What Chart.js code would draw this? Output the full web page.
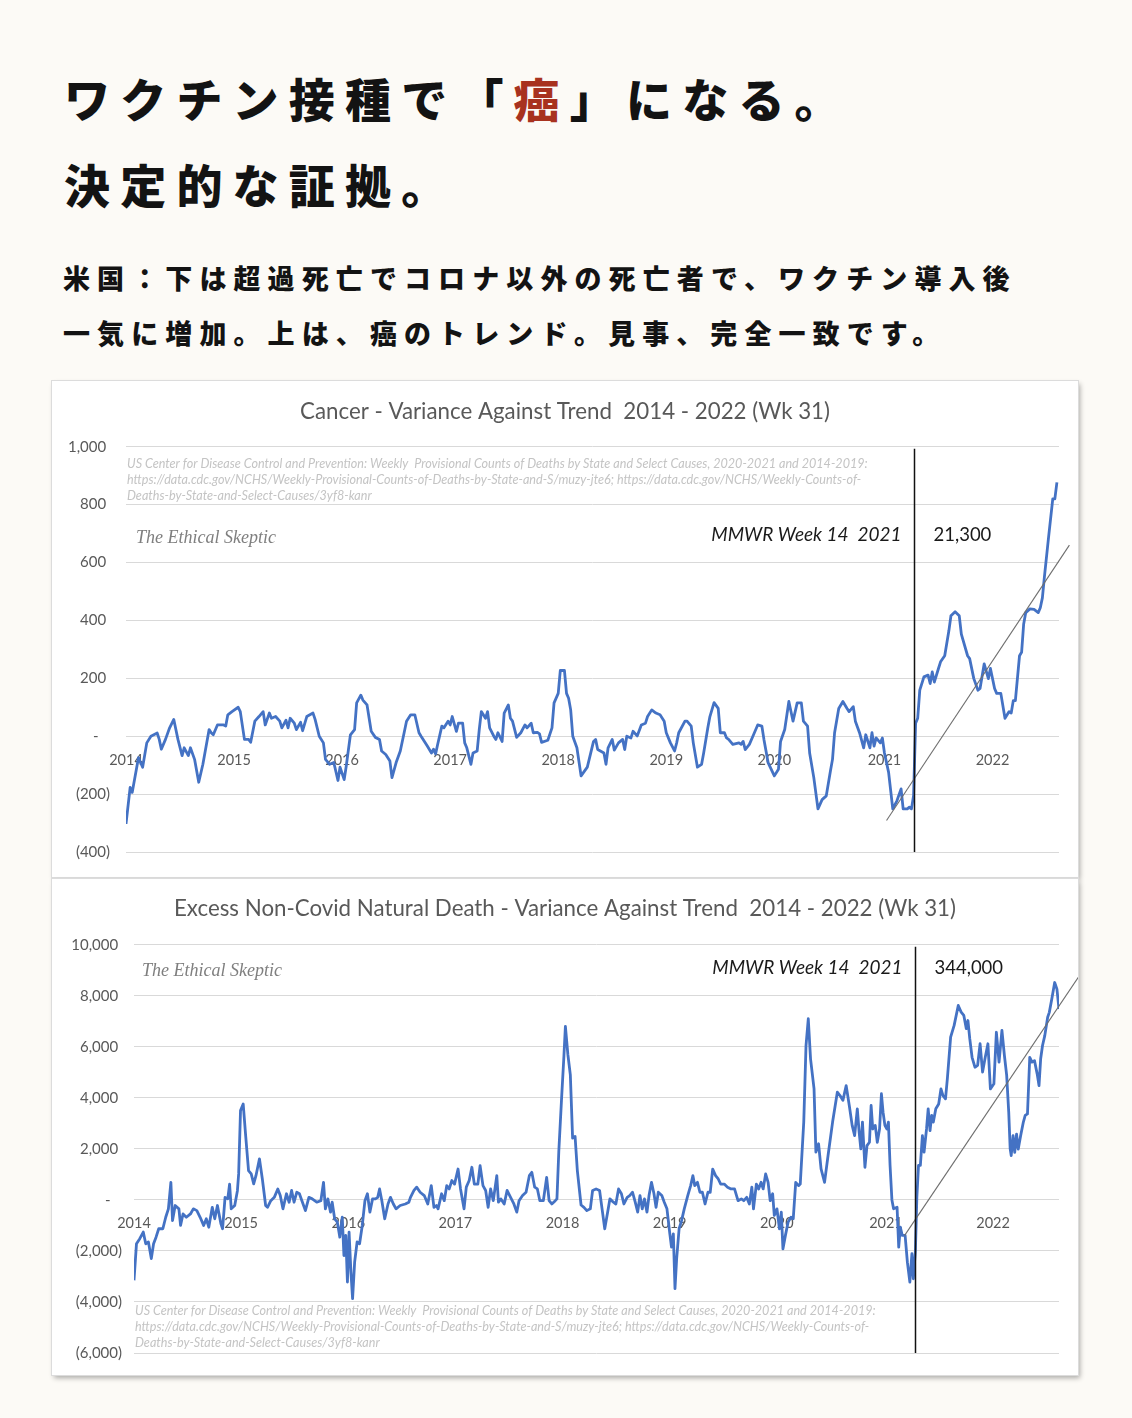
<!DOCTYPE html>
<html lang="ja"><head><meta charset="utf-8">
<script src="https://cdn.jsdelivr.net/npm/chart.js@4.4.1/dist/chart.umd.min.js"></script>
<style>
html,body{margin:0;padding:0;}
body{width:1132px;height:1418px;background:#fcfaf6;position:relative;overflow:hidden;font-family:"Noto Sans CJK JP",sans-serif;}
.h{position:absolute;left:64px;margin:0;color:#131313;white-space:nowrap;line-height:1;}
.h1{font-size:46px;letter-spacing:10.2px;font-weight:900;}
.h2{font-size:27px;letter-spacing:7.1px;font-weight:900;}
.red{color:#a8321f;}
.card{position:absolute;left:52px;width:1026px;height:496px;background:#fff;box-shadow:0 0 0 1px #dcdcdc,2px 3px 5px rgba(0,0,0,0.32);}
.card canvas{display:block;}
</style></head>
<body>
<div class="h h1" style="top:74px">ワクチン接種で「<span class="red">癌</span>」になる。</div>
<div class="h h1" style="top:160px">決定的な証拠。</div>
<div class="h h2" style="top:264px;left:63px">米国：下は超過死亡でコロナ以外の死亡者で、ワクチン導入後</div>
<div class="h h2" style="top:319px;left:63px">一気に増加。上は、癌のトレンド。見事、完全一致です。</div>

<div class="card" style="top:381px"><canvas id="c1" width="1026" height="496"></canvas></div>
<div class="card" style="top:879px"><canvas id="c2" width="1026" height="496"></canvas></div>

<script>
// ---- data (x = MMWR week index counted from 2014 week 1) ----
const years = ['2014','2015','2016','2017','2018','2019','2020','2021','2022'];
const yearWeeks = [0, 52, 104, 156, 208, 260, 312, 365, 417];
const markerWeek = 379; // MMWR Week 14 2021

const cancerWeeks = [
0,2,3,6,8,10,12,15,16,17,
19,21,23,24,25,27,28,30,31,33,
35,37,40,41,42,44,47,48,49,51,
54,55,57,59,60,62,64,66,67,69,
70,72,74,75,77,78,79,81,82,84,
85,87,90,91,93,95,96,98,100,102,
103,105,106,108,110,111,113,114,116,118,
120,122,123,125,127,128,130,132,134,135,
137,139,141,142,145,147,148,149,150,152,
153,155,156,157,159,160,162,163,164,166,
167,169,170,171,173,174,175,177,178,179,
181,182,184,185,186,188,190,192,193,195,
196,198,199,200,203,205,206,208,209,211,
212,213,214,215,217,219,222,225,226,227,
230,231,232,234,235,237,239,240,241,243,
244,246,248,250,251,253,255,257,259,260,
262,264,265,266,269,270,272,273,275,277,
278,280,281,283,285,286,288,289,290,292,
295,296,297,298,300,302,304,306,307,309,
312,314,315,317,319,321,323,325,326,328,
329,331,333,335,337,339,340,341,343,345,
347,348,350,351,353,355,356,358,359,360,
361,363,364,365,367,369,371,373,374,376,
377,378,379,380,381,382,384,386,387,388,
389,391,392,394,396,397,399,401,402,405,
406,408,410,411,413,415,416,418,419,421,
423,425,426,427,428,430,431,432,433,435,
437,439,440,441,442,444,446,447,448];
const cancerValues = [
-303,-177,-194,-74,-107,-23,0,11,-11,-45,
-11,29,58,23,-11,-67,-40,-67,-40,-80,
-159,-97,23,12,5,39,39,35,74,85,
100,85,-11,-11,-21,52,68,85,39,80,
62,68,52,29,55,29,62,45,23,48,
19,68,80,58,0,-23,-80,-97,-91,-153,
-107,-150,-103,5,23,115,142,125,108,17,
-4,-11,-51,-63,-86,-143,-91,-51,17,52,
74,74,12,0,-34,-58,-45,-61,-28,35,
29,52,39,68,17,45,45,-23,-40,-97,
-58,-51,23,85,62,85,29,0,-11,12,
-18,80,108,62,52,-4,12,39,29,45,
12,13,8,-21,-14,29,115,148,227,227,
148,131,91,0,-40,-137,-107,-18,-11,-46,
-58,-97,-40,-11,-48,-23,-11,-46,0,-6,
17,1,39,45,68,91,80,74,52,12,
-23,-51,-23,12,52,52,35,-23,-107,-97,
-58,29,68,116,96,12,12,-6,-11,-28,
-23,-28,-18,-46,-28,5,39,35,-11,-91,
-137,-114,-18,23,120,52,115,115,52,35,
-58,-143,-251,-219,-206,-120,-80,12,96,120,
96,85,102,52,12,-40,5,-40,12,-34,
-6,-23,-6,-58,-125,-251,-223,-182,-251,-251,
-245,-251,-206,45,62,159,205,211,182,222,
187,234,257,278,364,416,430,416,353,278,
268,199,159,165,250,199,234,165,148,148,
62,85,80,123,123,278,290,388,427,440,
438,427,444,478,552,689,820,820,877];
const cancerTrendWeeks = [366, 454];
const cancerTrendValues = [-291, 660];

const excessWeeks = [
0,1.2,2.8,4.5,5.7,7,8.4,9.5,10.7,12,
14,15.4,16.7,17.9,18.7,20,21.8,22.6,23.8,25.4,
27.4,28.8,30.5,32.1,33.8,35.1,36.3,38,39.2,40.5,
42.2,43,44.2,45.5,46.4,47.2,48.9,50.2,50.8,51.7,
53,54.2,55.6,56.9,58.1,59.2,60.9,62.3,63.9,64.8,
66.4,68.1,69.8,71,72.3,74,75.3,76.5,77.7,79,
80.3,81.5,83.2,84.9,86.5,88.7,90.7,92,92.9,94.1,
95.4,96.2,97.4,98.7,99.9,101.1,101.9,102.8,103.6,104.4,
105.3,106.1,107.1,108.3,109.5,110.8,112.1,113.3,114.5,115.8,
117.2,118.3,119.2,120.3,121.7,123.3,124.5,125.9,127.2,129.2,
131.7,133.4,134.2,135.9,137.2,138.9,140.9,142.6,144.3,145.6,
146.8,147.6,149.3,150.6,151.8,153,154.3,155.6,157.3,158.5,
160.2,161.3,162.7,164,165.2,166.9,168,169.4,170.7,171.9,
173.1,174.4,176.1,176.9,178.1,179.7,181.1,182.8,184.4,185.8,
186.9,188.6,190.3,191.9,193.1,194.5,195.8,197,198.7,200.3,
201.5,202.8,204.5,205.3,206.2,207.5,208.7,209.4,210.6,211.8,
212.9,214.1,215.2,217,218.4,219.8,221.5,222.6,224.3,226,
227.2,228.5,229.9,231,232.7,233.9,235.2,236.6,237.8,239.4,
240.6,242,243.3,244.5,245.6,246.7,247.8,249,250,251.2,
252.4,253.4,254.5,256.2,257.4,258.7,260.1,260.9,261.8,262.6,
263.4,264.6,265.8,267.1,268.8,270.2,271.3,272.2,273.5,274.7,
275.9,277.2,278.6,279.7,280.9,282.3,283.6,284.8,286.5,288.1,
289.8,291.5,293.2,294.8,296,297.4,298.7,299.9,300.7,302.1,
303.2,304.4,305.4,306.6,307.8,308.8,310,310.8,312.1,313.3,
314.2,315,316.2,317.5,318.9,320,321.2,322.6,323.4,325.1,
326.2,327.3,328.4,330.1,331,332.3,333.5,335.2,336.9,339.1,
341.4,342.7,344.1,345.7,347.2,348.6,349.8,351.1,352,352.8,
353.6,354.8,355.8,357,357.8,358.6,359.8,360.8,361.9,362.8,
363.6,364.5,365.4,366.2,367,367.9,368.7,370.4,371.2,372,
372.9,374.3,375.4,376.6,377.6,378.3,379.3,380,380.8,381.7,
382.7,383.5,384.7,385.5,386.4,387.2,388,389.2,390.6,391.7,
392.7,393.9,394.8,396.4,398.1,400.1,401.5,402.8,404,404.8,
405.7,406.8,408.2,409.5,410.7,411.9,413.2,414.5,415.7,417.4,
418.6,419.9,421.3,422.5,423.6,424.6,425.3,425.8,426.7,427.5,
428.4,429.2,430.4,431.7,432.6,433.7,434.8,435.9,437.1,438.4,
439.3,440.1,441,442.1,443.5,444.3,445.5,446.9,448,449];
const excessValues = [
-3150,-1720,-1520,-1260,-1720,-1650,-2300,-1720,-1460,-1130,
-1130,-680,-350,690,-810,-220,-350,-1000,-550,-680,
-550,-350,-420,-680,-1000,-740,-1070,-290,-740,-220,
-940,-1130,100,40,620,-350,-220,360,1020,3500,
3760,2520,1150,1020,630,950,1610,820,-220,-290,
-30,100,430,170,-350,240,-90,370,-90,300,
240,-30,-420,100,40,-90,-30,690,-350,40,
-480,-90,-740,-870,-1460,-680,-2180,-1390,-3220,-1260,
-2830,-3870,-2440,-1650,-1720,-1000,-30,240,-480,40,
40,100,430,-30,-740,-160,100,-160,-350,-220,
-160,-90,100,370,500,300,170,-160,560,-290,
-220,-350,240,-30,560,430,760,620,1210,430,
-350,500,760,1280,620,620,1340,560,370,-290,
430,-30,950,-90,40,-160,370,100,-160,-480,
-30,170,300,950,1080,500,430,-30,-30,880,
-30,-160,-30,40,1900,3900,5660,6800,5700,4900,
2420,2490,1150,-200,-290,-420,-350,370,430,370,
-350,-1130,-480,40,-90,-160,430,240,-160,100,
170,300,-90,-480,170,-350,40,-480,170,690,
240,-290,300,170,-90,-350,-1330,-1850,-1330,-3480,
-2310,-1130,-810,-350,170,560,950,560,690,300,
300,-160,300,300,1210,950,820,620,620,500,
430,430,-30,40,-30,100,-160,500,-350,620,
430,690,430,1020,690,-30,240,-610,-350,-1130,
-480,-1920,-1390,-870,-680,-740,690,560,620,3050,
6050,7100,5530,4350,1870,2200,1220,690,1740,3050,
4220,4090,3900,4480,3700,2920,2520,3570,2650,2000,
3050,1280,2130,2260,3700,2780,2920,2260,2780,4160,
3440,2920,2780,3050,1350,0,-350,-290,-1850,-1070,
-1390,-1390,-2440,-3220,-2110,-3090,-1980,100,1350,1350,
2520,1870,2780,3570,2720,3310,3050,3570,3760,4350,
4090,3960,4740,6380,6840,7620,7360,7230,6710,7030,
6310,5590,5200,5270,6120,5010,5590,6120,4350,4550,
6570,5400,6640,5660,4880,3440,2000,1740,2520,1860,
2580,1990,2520,3050,3310,3370,5590,5400,5460,4940,
4480,5530,6050,6440,7160,7350,7870,8520,8260,7480];
const excessTrendWeeks = [374, 459];
const excessTrendValues = [-1400, 8800];

const sourceLines = [
  'US Center for Disease Control and Prevention: Weekly  Provisional Counts of Deaths by State and Select Causes, 2020-2021 and 2014-2019:',
  'https://data.cdc.gov/NCHS/Weekly-Provisional-Counts-of-Deaths-by-State-and-S/muzy-jte6; https://data.cdc.gov/NCHS/Weekly-Counts-of-',
  'Deaths-by-State-and-Select-Causes/3yf8-kanr'
];

// ---- helpers ----
const pts = (xs, ys) => xs.map((x, i) => ({x, y: ys[i]}));
function fmt(v) {
  if (v === 0) return '-   ';
  const s = Math.abs(v).toLocaleString('en-US');
  return v < 0 ? '(' + s + ')' : s + ' ';
}

const annotPlugin = {
  id: 'annot',
  afterDatasetsDraw(chart, args, o) {
    const {ctx, chartArea: a, scales: {x}} = chart;
    const lx = Math.round(x.getPixelForValue(markerWeek)) + 0.5;
    ctx.save();
    ctx.strokeStyle = '#111';
    ctx.lineWidth = 1.5;
    ctx.beginPath(); ctx.moveTo(lx, a.top + 2); ctx.lineTo(lx, a.bottom); ctx.stroke();

    ctx.textBaseline = 'middle';
    // source note
    ctx.fillStyle = '#c4c4c4';
    ctx.font = 'italic 12.6px Lato';
    ctx.textAlign = 'left';
    o.sourceY.forEach((dy, i) => {
      const y = dy >= 0 ? a.top + dy : a.bottom + dy;
      ctx.fillText(sourceLines[i], a.left + 1, y);
    });
    // signature
    ctx.fillStyle = '#7f7f7f';
    ctx.font = 'italic 18px "Liberation Serif"';
    ctx.fillText('The Ethical Skeptic', a.left + o.sigX, a.top + o.sigY);
    // marker labels
    ctx.fillStyle = '#1a1a1a';
    ctx.font = 'italic 19px Lato';
    ctx.textAlign = 'right';
    ctx.fillText('MMWR Week 14  2021', lx - 13, a.top + o.labelY);
    ctx.font = '18.5px Lato';
    ctx.textAlign = 'left';
    ctx.fillText(o.total, lx + 19, a.top + o.labelY);
    ctx.restore();
  }
};

function makeChart(id, cfg) {
  return new Chart(document.getElementById(id), {
    type: 'line',
    data: {
      datasets: [
        {data: pts(cfg.weeks, cfg.values), borderColor: '#4472c4', borderWidth: 2.8,
         pointRadius: 0, tension: 0, borderJoinStyle: 'round', order: 2},
        {data: pts(cfg.trendWeeks, cfg.trendValues), borderColor: '#6e6e6e', borderWidth: 1.1,
         pointRadius: 0, tension: 0, clip: false, order: 1}
      ]
    },
    options: {
      responsive: false,
      animation: false,
      layout: {padding: {left: 0, right: 0, top: 0, bottom: cfg.padBottom}},
      plugins: {
        legend: {display: false},
        tooltip: {enabled: false},
        title: {display: true, text: cfg.title, color: '#595959',
                font: {family: 'Lato', size: 22.3, weight: 'normal'},
                padding: {top: cfg.titleTop, bottom: cfg.titleBottom}},
        annot: cfg.annot
      },
      scales: {
        x: {
          type: 'linear', position: {y: 0}, min: 0, max: 449,
          grid: {display: false, drawTicks: false},
          border: {display: false},
          afterBuildTicks: s => { s.ticks = yearWeeks.map(v => ({value: v})); },
          ticks: {callback: (v, i) => years[i], color: '#595959', autoSkip: false,
                  maxRotation: 0, minRotation: 0, padding: 15,
                  font: {family: 'Lato', size: 14.5}}
        },
        y: {
          min: cfg.min, max: cfg.max,
          afterFit: s => { s.width = cfg.axisWidth; },
          grid: {color: '#d9d9d9', lineWidth: 1, drawTicks: false},
          border: {display: false},
          ticks: {stepSize: cfg.step, callback: v => fmt(v), color: '#595959',
                  padding: cfg.tickPad, font: {family: 'Lato', size: 15}}
        },
        // empty right-hand margin of the plot (keeps the title centred on the whole frame)
        yRight: {
          position: 'right', display: true,
          afterFit: s => { s.width = 19; },
          grid: {display: false, drawTicks: false},
          border: {display: false},
          ticks: {display: false}
        }
      }
    },
    plugins: [annotPlugin]
  });
}

function build() {
  makeChart('c1', {
    title: 'Cancer - Variance Against Trend  2014 - 2022 (Wk 31)',
    weeks: cancerWeeks, values: cancerValues,
    trendWeeks: cancerTrendWeeks, trendValues: cancerTrendValues,
    min: -400, max: 1000, step: 200, axisWidth: 74, tickPad: 16,
    titleTop: 17, titleBottom: 22, padBottom: 15,
    annot: {sourceY: [17, 33, 49], sigX: 10, sigY: 92, labelY: 88, total: '21,300'}
  });
  makeChart('c2', {
    title: 'Excess Non-Covid Natural Death - Variance Against Trend  2014 - 2022 (Wk 31)',
    weeks: excessWeeks, values: excessValues,
    trendWeeks: excessTrendWeeks, trendValues: excessTrendValues,
    min: -6000, max: 10000, step: 2000, axisWidth: 82, tickPad: 12,
    titleTop: 16, titleBottom: 23, padBottom: 22,
    annot: {sourceY: [-42, -26, -10], sigX: 8, sigY: 27, labelY: 23, total: '344,000'}
  });
}

Promise.all([
  document.fonts.load('20px Lato'), document.fonts.load('italic 18px Lato'),
  document.fonts.load('italic 17px "Liberation Serif"')
]).catch(() => {}).then(build);
</script>
</body></html>
